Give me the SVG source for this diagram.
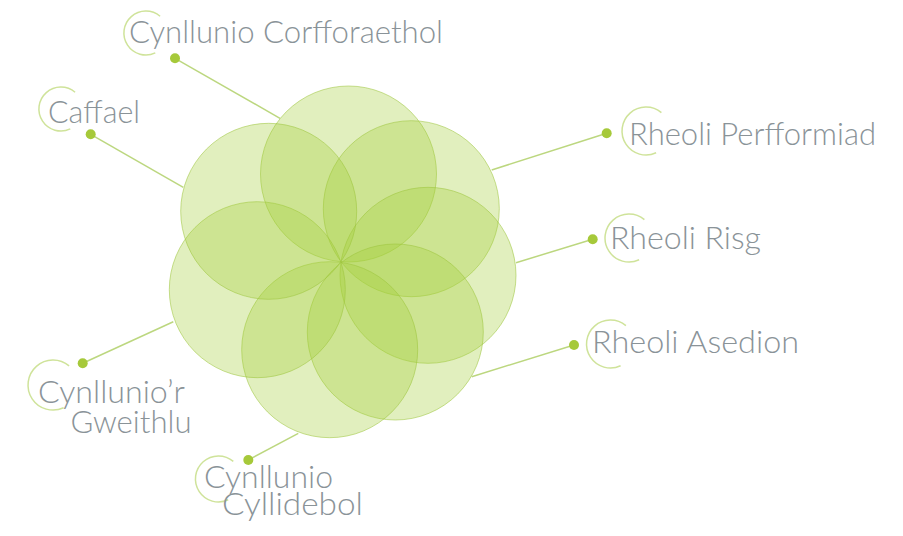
<svg xmlns="http://www.w3.org/2000/svg" width="903" height="536" viewBox="0 0 903 536">
<style>
.petal{fill:#a5cd39;fill-opacity:0.33;stroke:#9cc43c;stroke-opacity:0.55;stroke-width:1}
.conn{stroke:#bcd77f;stroke-width:1.5;fill:none}
.ring{stroke:#cfe39a;stroke-width:1.5;fill:none}
.dot{fill:#a6c93a}
.lbl{font-family:Lato,"Open Sans","Liberation Sans",sans-serif;font-weight:300;font-size:31px;fill:#8a9398}
</style>
<rect width="903" height="536" fill="#ffffff"/>
<g id="connectors">
<line class="conn" x1="175" y1="58.3" x2="280" y2="118.3"/>
<line class="conn" x1="90.7" y1="134.3" x2="183.3" y2="187.3"/>
<line class="conn" x1="606.7" y1="133.3" x2="491.7" y2="170"/>
<line class="conn" x1="592.7" y1="239.3" x2="516" y2="262.7"/>
<line class="conn" x1="574" y1="345" x2="471.7" y2="376.7"/>
<line class="conn" x1="82.7" y1="363.3" x2="173.3" y2="321.7"/>
<line class="conn" x1="248.3" y1="460" x2="298.3" y2="433.3"/>
</g>
<g id="flower">
<circle class="petal" cx="348.5" cy="174" r="88"/>
<circle class="petal" cx="411.3" cy="208.7" r="88"/>
<circle class="petal" cx="428" cy="275.3" r="88"/>
<circle class="petal" cx="395.3" cy="332" r="88"/>
<circle class="petal" cx="329.7" cy="349.7" r="88"/>
<circle class="petal" cx="257.3" cy="289.7" r="88"/>
<circle class="petal" cx="268.7" cy="211.3" r="88"/>
</g>
<g id="node-cynllunio-corfforaethol">
<path class="ring" d="M160.1,16.2 A22,22 0 1 0 155.3,52.9"/>
<circle class="dot" cx="175" cy="58.3" r="5"/>
<text class="lbl" x="129" y="43.3" textLength="314" lengthAdjust="spacingAndGlyphs">Cynllunio Corfforaethol</text>
</g>
<g id="node-caffael">
<path class="ring" d="M75.1,92.2 A22,22 0 1 0 70.3,128.9"/>
<circle class="dot" cx="90.7" cy="134.3" r="5"/>
<text class="lbl" x="48" y="123.3" textLength="92" lengthAdjust="spacingAndGlyphs">Caffael</text>
</g>
<g id="node-rheoli-perfformiad">
<path class="ring" d="M661.4,112.6 A24,24 0 1 0 656.1,152.8"/>
<circle class="dot" cx="606.7" cy="133.3" r="5"/>
<text class="lbl" x="629" y="145" textLength="247" lengthAdjust="spacingAndGlyphs">Rheoli Perfformiad</text>
</g>
<g id="node-rheoli-risg">
<path class="ring" d="M644.4,219.6 A24,24 0 1 0 639.1,259.8"/>
<circle class="dot" cx="592.7" cy="239.3" r="5"/>
<text class="lbl" x="610" y="248.5" textLength="151" lengthAdjust="spacingAndGlyphs">Rheoli Risg</text>
</g>
<g id="node-rheoli-asedion">
<path class="ring" d="M625.9,325.6 A24,24 0 1 0 620.6,365.8"/>
<circle class="dot" cx="574" cy="345" r="5"/>
<text class="lbl" x="592" y="353.3" textLength="207" lengthAdjust="spacingAndGlyphs">Rheoli Asedion</text>
</g>
<g id="node-cynllunior-gweithlu">
<path class="ring" d="M69.1,365.9 A25,25 0 1 0 63.6,407.7"/>
<circle class="dot" cx="82.7" cy="363.3" r="5"/>
<text class="lbl"><tspan x="38" y="403.3" textLength="147" lengthAdjust="spacingAndGlyphs">Cynllunio’r</tspan><tspan x="70.5" y="433.3" textLength="121" lengthAdjust="spacingAndGlyphs">Gweithlu</tspan></text>
</g>
<g id="node-cynllunio-cyllidebol">
<path class="ring" d="M233.3,461.4 A23,23 0 1 0 228.2,499.8"/>
<circle class="dot" cx="248.3" cy="460" r="5"/>
<text class="lbl"><tspan x="204" y="488.3" textLength="129" lengthAdjust="spacingAndGlyphs">Cynllunio</tspan><tspan x="222" y="515" textLength="141" lengthAdjust="spacingAndGlyphs">Cyllidebol</tspan></text>
</g>
</svg>
